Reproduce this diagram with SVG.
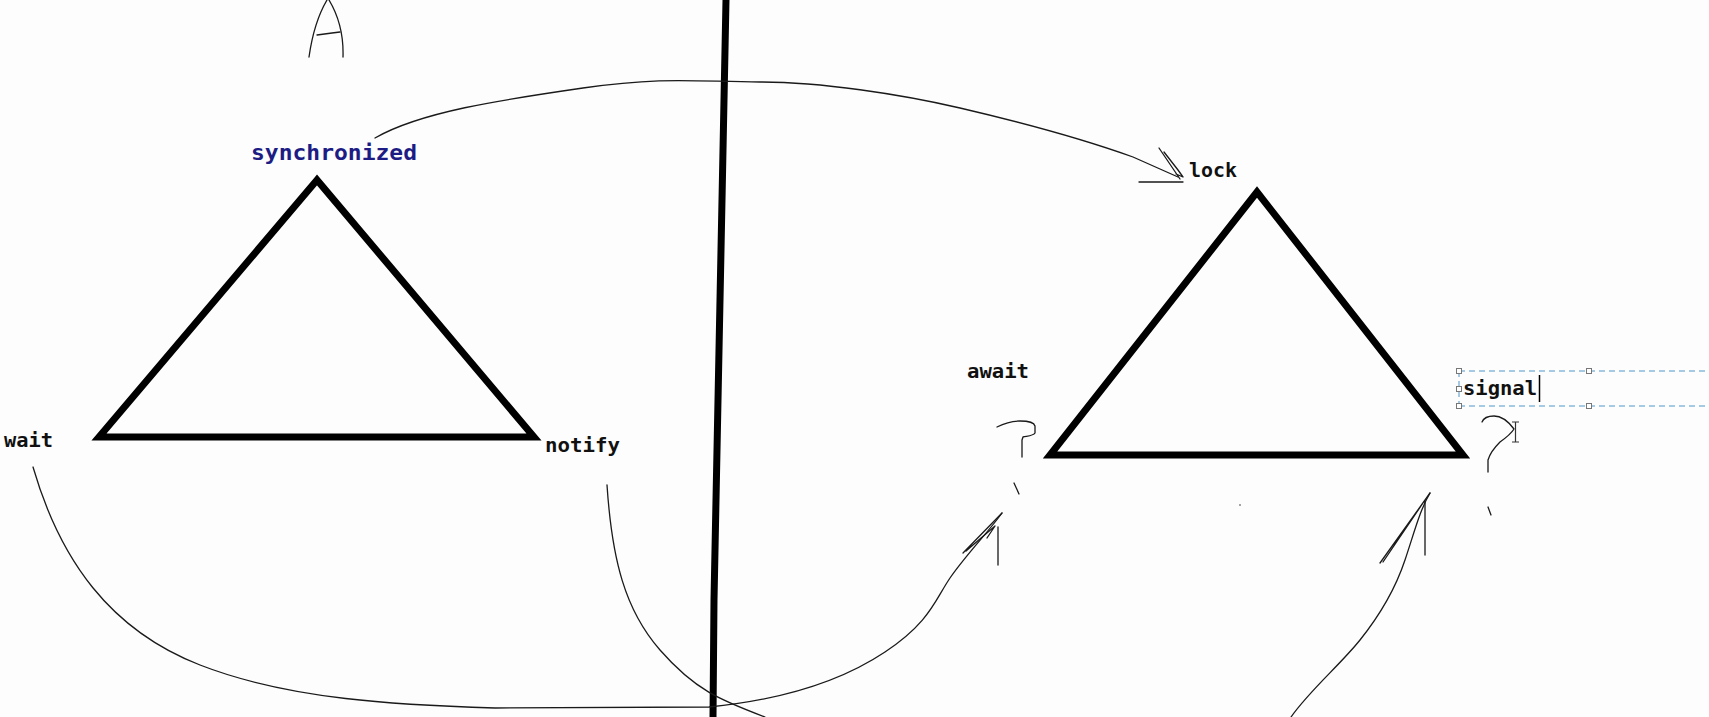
<svg xmlns="http://www.w3.org/2000/svg" width="1709" height="717" viewBox="0 0 1709 717">
<style>
.bg{fill:#fdfdfd}
.tri{fill:none;stroke:#000;stroke-width:7;stroke-linejoin:miter}
.ink{fill:none;stroke:#1a1a1a;stroke-width:1.3;stroke-linecap:round;stroke-linejoin:round}
.lbl{font-family:"DejaVu Sans Mono","Liberation Mono",monospace;font-weight:bold;font-size:20px;fill:#111}
.blue{fill:#1c1c84;font-size:22px}
.sel{fill:none;stroke:#4f97c9;stroke-width:1;stroke-dasharray:6 4}
.hd{fill:#fff;stroke:#777;stroke-width:1}
</style>
<rect class="bg" x="0" y="0" width="1709" height="717"/>

<g id="divider">
<path d="M726,0 L723,150 L720,300 L717,450 L714,600 L713,717" fill="none" stroke="#000" stroke-width="7"/>
</g>

<g id="letter-A">
<path class="ink" d="M309,57 Q314,22 327,0"/>
<path class="ink" d="M329,0 Q344,25 343,57"/>
<path class="ink" d="M317,35 L332,33 L340,32"/>
</g>

<g id="left-triangle">
<polygon class="tri" points="317,180 99,437 534,437"/>
<text class="lbl blue" x="251" y="160" textLength="166" lengthAdjust="spacingAndGlyphs">synchronized</text>
<text class="lbl" x="4" y="447" textLength="49" lengthAdjust="spacingAndGlyphs">wait</text>
<text class="lbl" x="545" y="452" textLength="75" lengthAdjust="spacingAndGlyphs">notify</text>
</g>

<g id="right-triangle">
<polygon class="tri" points="1257,192 1050,455 1463,455"/>
<text class="lbl" x="1189" y="177" textLength="48" lengthAdjust="spacingAndGlyphs">lock</text>
<text class="lbl" x="967" y="378" textLength="62" lengthAdjust="spacingAndGlyphs">await</text>
</g>

<g id="signal-box">
<path class="sel" d="M1459,371 H1709 M1459,406 H1709 M1459,371 V406"/>
<rect class="hd" x="1456.5" y="368.5" width="5" height="5"/>
<rect class="hd" x="1586.5" y="368.5" width="5" height="5"/>
<rect class="hd" x="1456.5" y="386.5" width="5" height="5"/>
<rect class="hd" x="1456.5" y="403.5" width="5" height="5"/>
<rect class="hd" x="1586.5" y="403.5" width="5" height="5"/>
<text class="lbl" x="1463" y="395" textLength="74" lengthAdjust="spacingAndGlyphs">signal</text>
<path d="M1539.5,375 V402" stroke="#000" stroke-width="1.5"/>
<path d="M1512,422 H1519 M1515.5,422 V442 M1512,442 H1519" stroke="#333" stroke-width="1.2" fill="none"/>
</g>

<g id="question-marks">
<path class="ink" d="M997,427 C1005,423 1013,421 1020,421 C1028,421 1034,422 1035,426 L1035,433 C1033,436 1027,436 1023,437 L1022,440 L1022,457"/>
<path class="ink" d="M1014,483 L1019,494"/>
<path class="ink" d="M1482,422 C1484,417 1489,416 1494,416 C1502,416 1508,421 1514,429 C1511,434 1507,437 1500,442 C1494,448 1490,453 1488,460 L1488,472"/>
<path class="ink" d="M1488,507 L1491,515"/>
<circle cx="1240" cy="505" r="0.8" fill="#333"/>
</g>

<g id="connectors">
<path class="ink" d="M375,138 C420,112 500,100 583,88 S700,82 760,82 S900,94 960,108 S1080,138 1133,157 L1178,177"/>
<path class="ink" d="M1159,148 L1180,179 M1164,152 L1178,170 L1183,177 L1176,174 M1139,182 L1183,182"/>

<path class="ink" d="M33,467 C60,560 110,630 200,665 S400,705 495,708 L709,707 C780,700 840,682 885,652 S935,600 950,578 S990,530 1002,513"/>
<path class="ink" d="M963,553 L1002,513 M966,551 L995,526 L987,538 M998,527 L998,565"/>

<path class="ink" d="M607,485 C612,560 625,610 660,650 S720,700 765,717"/>

<path class="ink" d="M1291,717 C1310,690 1340,665 1360,640 S1395,590 1405,560 S1420,510 1430,493"/>
<path class="ink" d="M1430,493 L1380,563 M1425,500 L1383,562 M1425,500 L1425,555"/>
</g>
</svg>
